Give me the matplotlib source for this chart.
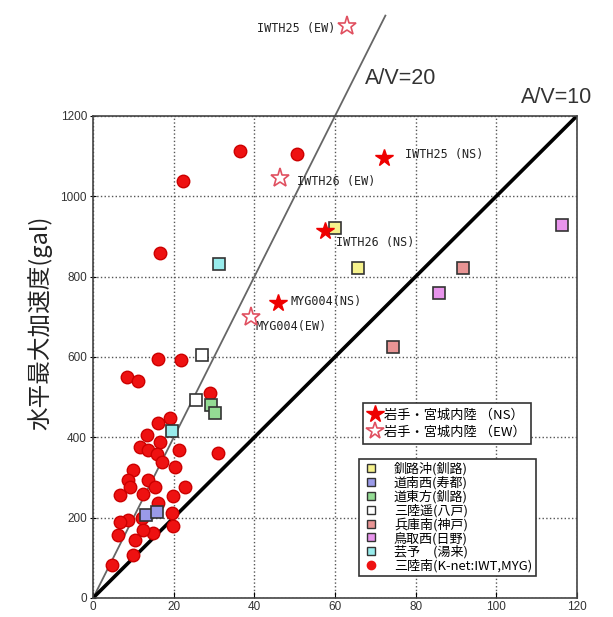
import matplotlib
matplotlib.use('Agg')
from matplotlib import pyplot as plt
from matplotlib.lines import Line2D
import numpy as np

plt.rcParams['font.family'] = ['Noto Sans CJK JP', 'DejaVu Sans']

# star points (Iwate-Miyagi inland)
ns_names = ['IWTH25 (NS)', 'IWTH26 (NS)', 'MYG004(NS)']
ns_x = [72.2, 57.6, 45.9]
ns_y = [1095, 913, 735]
ew_names = ['IWTH25 (EW)', 'IWTH26 (EW)', 'MYG004(EW)']
ew_x = [63.0, 46.4, 39.2]
ew_y = [1424, 1045, 700]

# past earthquakes, squares
quake_labels = ['釧路沖(釧路)', '道南西(寿都)', '道東方(釧路)', '三陸遥(八戸)',
                '兵庫南(神戸)', '鳥取西(日野)', '芸予　(湯来)']
quake_colors = ['#f6f28c', '#9a9ae8', '#94dc94', '#ffffff',
                '#e89494', '#e894ec', '#98ecec']
quake_x = [[60.0, 65.8], [13.0, 15.9], [29.3, 30.3], [25.6, 27.0],
           [91.8, 74.4], [116.4, 85.9], [31.3, 19.6]]
quake_y = [[921, 822], [207, 214], [480, 460], [493, 605],
           [822, 625], [929, 759], [831, 416]]

# Sanriku-minami K-net records
dot_x = [36.5, 50.6, 22.3, 16.6, 16.1, 21.8, 8.4, 11.2, 29.0, 31.0,
         16.1, 19.1, 13.4, 16.6, 11.7, 13.6, 15.9, 21.3, 17.1, 20.3,
         9.9, 8.7, 13.6, 15.4, 9.2, 22.8, 6.7, 12.4, 19.9, 16.1,
         8.7, 6.7, 12.2, 19.6, 14.9, 12.4, 10.4, 6.2, 19.9, 9.9, 4.7]
dot_y = [1113, 1105, 1038, 859, 595, 592, 550, 540, 510, 362,
         436, 448, 406, 388, 376, 368, 358, 368, 339, 326,
         319, 294, 294, 276, 276, 276, 256, 259, 253, 236,
         194, 189, 199, 211, 162, 169, 144, 157, 180, 107, 82]

fig = plt.figure(figsize=(6.13, 6.17), dpi=100)
ax = fig.add_axes([0.152, 0.031, 0.789, 0.781])

ax.plot([0, 72.5], [0, 1450], color='#666666', lw=1.3, clip_on=False, zorder=2)
ax.plot([0, 120], [0, 1200], color='black', lw=2.6, zorder=2)
ax.text(67.5, 1294, 'A/V=20', fontsize=15.5, family='Liberation Sans', va='center', color='#333333')
ax.text(106.2, 1247, 'A/V=10', fontsize=15.5, family='Liberation Sans', va='center',
        color='#333333', clip_on=False)

ax.plot(dot_x, dot_y, 'o', color='#ee1111', mec='#cc0000', ms=9, zorder=3)

for xs, ys, c in zip(quake_x, quake_y, quake_colors):
    ax.plot(xs, ys, 's', mfc=c, mec='#333333', mew=1.2, ms=9, zorder=4)

ax.plot(ns_x, ns_y, '*', color='#ee0000', ms=13, zorder=5)
ax.plot(ew_x, ew_y, '*', mfc='white', mec='#e05060', mew=1.2, ms=14, zorder=5, clip_on=False)

lbl = dict(fontsize=8.5, family='DejaVu Sans Mono', color='#222222', va='center')
ax.text(60.0, 1419, ew_names[0], ha='right', **lbl)
ax.text(77.4, 1103, ns_names[0], ha='left', **lbl)
ax.text(50.6, 1038, ew_names[1], ha='left', **lbl)
ax.text(60.3, 884, ns_names[1], ha='left', **lbl)
ax.text(48.9, 737, ns_names[2], ha='left', **lbl)
ax.text(40.2, 675, ew_names[2], ha='left', **lbl)

ax.set_xlim(0, 120)
ax.set_ylim(0, 1200)
ax.set_xticks(np.arange(0, 121, 20))
ax.set_yticks(np.arange(0, 1201, 200))
ax.tick_params(axis='x', direction='in', length=4, labelsize=8.5, pad=2)
ax.tick_params(axis='y', direction='inout', length=5, labelsize=8.5, pad=2)
for t in ax.get_xticklabels() + ax.get_yticklabels():
    t.set_family('Liberation Sans')
    t.set_color('#333333')
ax.grid(True, linestyle=':', color='#555555', lw=1.0)
for s in ax.spines.values():
    s.set_color('#444444')
    s.set_linewidth(1.2)

ax.set_ylabel('水平最大加速度(gal)', fontsize=17, color='#222222')
ax.yaxis.set_label_coords(-0.085, 0.57)

h1 = [Line2D([], [], ls='', marker='*', color='#ee0000', ms=13),
      Line2D([], [], ls='', marker='*', mfc='white', mec='#e05060', mew=1.2, ms=13)]
leg1 = ax.legend(h1, ['岩手・宮城内陸 （NS）', '岩手・宮城内陸 （EW）'], loc='upper left',
                 bbox_to_anchor=(0.557, 0.404), fontsize=9.5, fancybox=False,
                 edgecolor='#333333', framealpha=1, handletextpad=0.15,
                 handlelength=1.1, labelspacing=0.35, borderpad=0.4, borderaxespad=0)
leg1.get_frame().set_linewidth(1.2)
ax.add_artist(leg1)

h2 = [Line2D([], [], ls='', marker='s', mfc=c, mec='#333333', ms=6) for c in quake_colors]
h2.append(Line2D([], [], ls='', marker='o', color='#ee1111', ms=6))
leg2 = ax.legend(h2, quake_labels + ['三陸南(K-net:IWT,MYG)'], loc='upper left',
                 bbox_to_anchor=(0.549, 0.289), fontsize=9.4, fancybox=False,
                 edgecolor='#333333', framealpha=1, handletextpad=1.1,
                 handlelength=1.3, labelspacing=0.02, borderpad=0.3, borderaxespad=0)
leg2.get_frame().set_linewidth(1.2)

fig.savefig('out.png', dpi=100)
